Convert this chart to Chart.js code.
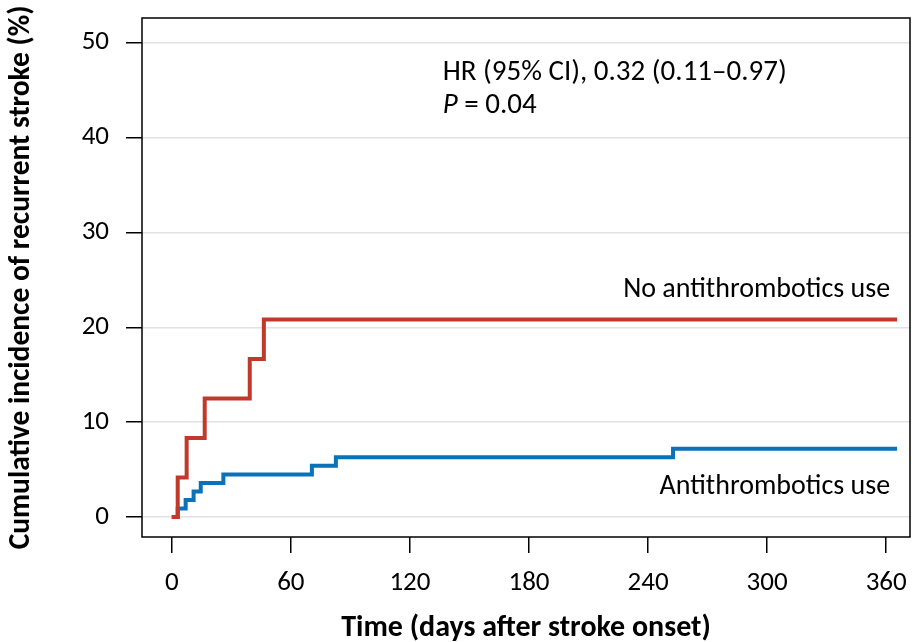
<!DOCTYPE html>
<html>
<head>
<meta charset="utf-8">
<script src="https://cdn.jsdelivr.net/npm/chart.js@4.4.0/dist/chart.umd.min.js"></script>
<style>
  html, body { margin:0; padding:0; background:#fff; }
  #wrap { width:922px; height:642px; }
</style>
</head>
<body>
<div id="wrap"><canvas id="km"></canvas></div>
<script>
// ============ Kaplan-Meier style cumulative incidence ============
const noDays   = [0, 3, 7.5, 16.6, 39.3, 46.4, 365.5];
const noValues = [0, 4.17, 8.33, 12.5, 16.67, 20.83, 20.83];

const antiDays   = [0, 3, 7, 11, 14.6, 26, 70.6, 82.7, 252.6, 365.5];
const antiValues = [0, 0.9, 1.8, 2.7, 3.6, 4.5, 5.4, 6.3, 7.2, 7.2];

const xTicks = [0, 60, 120, 180, 240, 300, 360];
const yTicks = [0, 10, 20, 30, 40, 50];

const FONT = "Carlito, Lato, 'Open Sans', sans-serif";

const toPts = (xs, ys) => xs.map((x, i) => ({x, y: ys[i]}));

// box + text annotations
const boxPlugin = {
  id: 'boxPlugin',
  afterDraw(chart) {
    const {ctx, chartArea: a, scales} = chart;
    ctx.save();
    ctx.strokeStyle = '#000';
    ctx.lineWidth = 1.5;
    ctx.strokeRect(a.left, a.top, a.right - a.left, a.bottom - a.top);

    ctx.fillStyle = '#000';
    ctx.font = '29px ' + FONT;
    ctx.textBaseline = 'middle';
    ctx.textAlign = 'left';
    const tx = scales.x.getPixelForValue(136.5);
    ctx.fillText('HR (95% CI), 0.32 (0.11\u20130.97)', tx, scales.y.getPixelForValue(46.8));
    const py = scales.y.getPixelForValue(43.4);
    ctx.font = 'italic 29px ' + FONT;
    ctx.fillText('P', tx, py);
    const pw = ctx.measureText('P').width;
    ctx.font = '29px ' + FONT;
    ctx.fillText(' = 0.04', tx + pw, py);

    ctx.font = '28px ' + FONT;
    ctx.textAlign = 'right';
    const rx = scales.x.getPixelForValue(362);
    ctx.fillText('No antithrombotics use', rx, scales.y.getPixelForValue(23.9));
    ctx.fillText('Antithrombotics use', rx, scales.y.getPixelForValue(3.2));
    ctx.restore();
  }
};

new Chart(document.getElementById('km').getContext('2d'), {
  type: 'line',
  data: {
    datasets: [
      {label: 'No antithrombotics use', data: toPts(noDays, noValues), borderColor: '#c0392b', borderWidth: 4, stepped: true, pointRadius: 0, fill: false},
      {label: 'Antithrombotics use', data: toPts(antiDays, antiValues), borderColor: '#0a72b9', borderWidth: 4, stepped: true, pointRadius: 0, fill: false}
    ]
  },
  options: {
    responsive: true,
    maintainAspectRatio: false,
    animation: false,
    layout: {padding: {top: 18, right: 12, left: 0, bottom: 0}},
    plugins: {legend: {display: false}, tooltip: {enabled: false}},
    scales: {
      x: {
        type: 'linear',
        min: -15, max: 372,
        afterBuildTicks: s => { s.ticks = xTicks.map(v => ({value: v})); },
        afterFit: s => { s.height = 105; s.paddingLeft = 0; s.paddingRight = 0; },
        border: {display: false},
        grid: {drawOnChartArea: false, drawTicks: true, tickLength: 16, tickColor: '#000', lineWidth: 1.5},
        ticks: {color: '#000', font: {family: FONT, size: 27}, padding: 14, maxRotation: 0},
        title: {display: true, text: 'Time (days after stroke onset)', color: '#000', font: {family: FONT, size: 30, weight: 'bold', lineHeight: 1}, padding: {top: 0, bottom: -1}}
      },
      y: {
        min: -2.1, max: 52.6,
        afterBuildTicks: s => { s.ticks = yTicks.map(v => ({value: v})); },
        afterFit: s => { s.width = 142; s.paddingTop = 0; s.paddingBottom = 0; },
        border: {display: false},
        grid: {color: '#e2e2e2', lineWidth: 1.5, tickColor: '#000', tickLength: 16, drawTicks: true},
        ticks: {color: '#000', font: {family: FONT, size: 27}, padding: 17},
        title: {display: true, text: 'Cumulative incidence of recurrent stroke (%)', color: '#000', font: {family: FONT, size: 29.5, weight: 'bold', lineHeight: 1}, padding: {top: 7, bottom: 4}}
      }
    }
  },
  plugins: [boxPlugin]
});
</script>
</body>
</html>
